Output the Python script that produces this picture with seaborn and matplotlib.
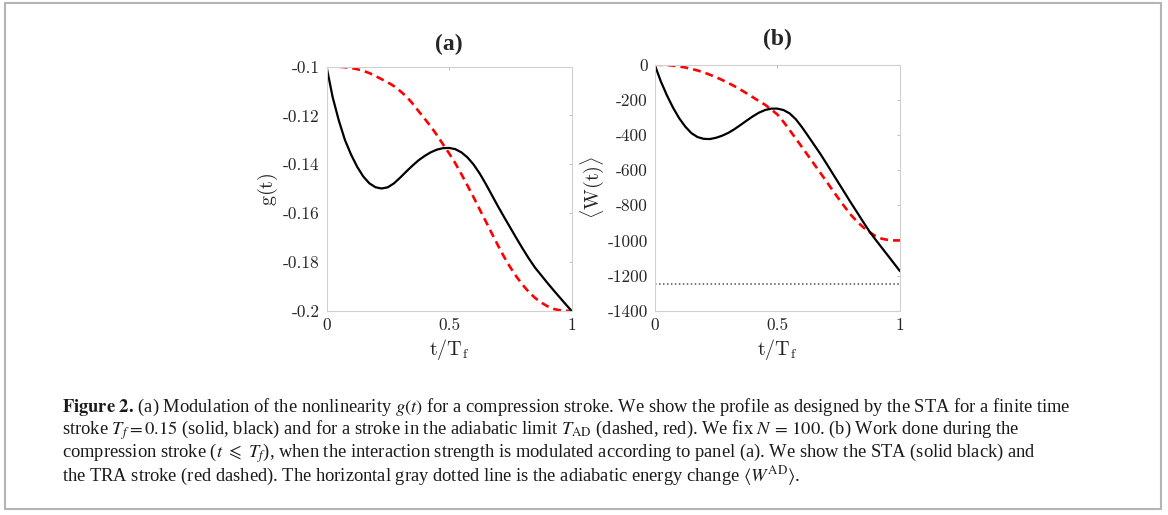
import matplotlib
matplotlib.use("Agg")
import matplotlib.pyplot as plt
import seaborn as sns
import pandas as pd
from matplotlib.patches import Rectangle

# --- Data ---
t = [0.000, 0.025, 0.050, 0.075, 0.100, 0.125, 0.150, 0.175, 0.200, 0.225,
     0.250, 0.275, 0.300, 0.325, 0.350, 0.375, 0.400, 0.425, 0.450, 0.475,
     0.500, 0.525, 0.550, 0.575, 0.600, 0.625, 0.650, 0.675, 0.700, 0.725,
     0.750, 0.775, 0.800, 0.825, 0.850, 0.875, 0.900, 0.925, 0.950, 0.975,
     1.000]

# (a) g(t): STA (solid black) and adiabatic (dashed red)
g_sta = [-0.1000, -0.1125, -0.1220, -0.1300, -0.1360, -0.1410, -0.1450, -0.1478,
         -0.1494, -0.1499, -0.1494, -0.1478, -0.1455, -0.1430, -0.1406, -0.1384,
         -0.1366, -0.1351, -0.1340, -0.1334, -0.1333, -0.1338, -0.1351, -0.1372,
         -0.1401, -0.1438, -0.1481, -0.1527, -0.1573, -0.1617, -0.1660, -0.1703,
         -0.1745, -0.1785, -0.1822, -0.1853, -0.1884, -0.1914, -0.1943, -0.1972,
         -0.2000]
g_ad = [-0.1000, -0.1000, -0.1001, -0.1003, -0.1006, -0.1011, -0.1018, -0.1027,
        -0.1039, -0.1052, -0.1065, -0.1080, -0.1100, -0.1122, -0.1150, -0.1182,
        -0.1213, -0.1245, -0.1280, -0.1318, -0.1355, -0.1395, -0.1440, -0.1487,
        -0.1535, -0.1585, -0.1634, -0.1684, -0.1733, -0.1780, -0.1822, -0.1860,
        -0.1893, -0.1922, -0.1946, -0.1965, -0.1980, -0.1991, -0.1997, -0.1999,
        -0.2000]

# (b) <W(t)>: STA (solid black) and TRA (dashed red)
w_sta = [0, -95, -175, -245, -305, -353, -390, -412, -422, -423,
         -416, -404, -388, -367, -343, -318, -294, -273, -258, -250,
         -250, -258, -277, -310, -355, -405, -456, -507, -562, -618,
         -674, -730, -786, -840, -895, -948, -995, -1040, -1085, -1130,
         -1175]
w_ad = [0, -1, -2, -5, -10, -16, -24, -33, -44, -57,
        -71, -87, -104, -122, -142, -163, -185, -207, -228, -255,
        -283, -325, -372, -420, -468, -517, -566, -615, -664, -714,
        -763, -810, -855, -893, -925, -952, -975, -990, -997, -1000,
        -1000]
w_adiabatic = -1250

g_ticks = [-0.2, -0.18, -0.16, -0.14, -0.12, -0.1]
g_ticklabels = ['-0.2', '-0.18', '-0.16', '-0.14', '-0.12', '-0.1']
w_ticks = [-1400, -1200, -1000, -800, -600, -400, -200, 0]
w_ticklabels = ['-1400', '-1200', '-1000', '-800', '-600', '-400', '-200', '0']
t_ticks = [0, 0.5, 1]
t_ticklabels = ['0', '0.5', '1']

caption_lines = [
    r"$\mathbf{Figure\ 2.}\,$(a) Modulation of the nonlinearity $g(t)$ for a compression stroke. "
    r"We show the profile as designed by the STA for a finite time",
    r"stroke $T_f = 0.15$ (solid, black) and for a stroke in the adiabatic limit "
    r"$T_{\mathrm{AD}}$ (dashed, red). We fix $N\,=\,100$. (b) Work done during the",
    r"compression stroke ($t\ \leqslant\ T_f$), when the interaction strength is modulated "
    r"according to panel (a). We show the STA (solid black) and",
    r"the TRA stroke (red dashed). The horizontal gray dotted line is the adiabatic energy "
    r"change $\langle W^{\mathrm{AD}}\rangle$.",
]

df_a = pd.DataFrame({'t': t, 'sta': g_sta, 'ad': g_ad})
df_b = pd.DataFrame({'t': t, 'sta': w_sta, 'ad': w_ad})

# --- Style ---
sns.set_style("white")
plt.rcParams['axes.unicode_minus'] = False
plt.rcParams['mathtext.fontset'] = 'cm'

W, H = 1168, 515
fig = plt.figure(figsize=(W / 100, H / 100), dpi=100)

def px_axes(left, top, right, bottom):
    return fig.add_axes([left / W, 1 - bottom / H, (right - left) / W, (bottom - top) / H])

ax_a = px_axes(326.5, 66.5, 571.7, 311)
ax_b = px_axes(654.7, 64.7, 900, 310.7)

dash = (0, (3.0, 1.9))
sns.lineplot(data=df_a, x='t', y='ad', ax=ax_a, color='#ff0000', lw=1.9, linestyle=dash)
sns.lineplot(data=df_a, x='t', y='sta', ax=ax_a, color='black', lw=1.6)

ax_b.axhline(w_adiabatic, color='#505050', lw=1.1, linestyle=(0, (1, 1.6)))
sns.lineplot(data=df_b, x='t', y='ad', ax=ax_b, color='#ff0000', lw=1.9, linestyle=dash)
sns.lineplot(data=df_b, x='t', y='sta', ax=ax_b, color='black', lw=1.6)

tick_font = dict(family='cmr10', size=12.5, color='#262626')

for ax, yt, ytl, ylim in [(ax_a, g_ticks, g_ticklabels, (-0.2, -0.1)),
                          (ax_b, w_ticks, w_ticklabels, (-1400, 0))]:
    ax.set_xlim(0, 1)
    ax.set_ylim(*ylim)
    ax.set_xticks(t_ticks)
    ax.set_xticklabels(t_ticklabels, fontdict=tick_font)
    ax.set_yticks(yt)
    ax.set_yticklabels(ytl, fontdict=tick_font)
    ax.tick_params(direction='in', length=2.5, width=0.6, color='#b0b0b0',
                   top=True, right=True, pad=5)
    for sp in ax.spines.values():
        sp.set_visible(True)
        sp.set_color('#d0d0d0')
        sp.set_linewidth(0.8)
    ax.set_xlabel(r'$\mathrm{t/T_f}$', fontsize=14.5, color='#262626', labelpad=3)

ax_a.set_ylabel(r'$\mathrm{g(t)}$', fontsize=14.5, color='#262626', labelpad=2)
ax_b.set_ylabel(r'$\langle\mathrm{W(t)}\rangle$', fontsize=14.5, color='#262626', labelpad=1)
ax_a.set_title('(a)', family='Liberation Serif', weight='bold', fontsize=17, pad=12)
ax_b.set_title('(b)', family='Liberation Serif', weight='bold', fontsize=17, pad=14)

# --- Caption ---
baselines = [412, 435, 458, 481]
for line, yb in zip(caption_lines, baselines):
    fig.text(62 / W, 1 - yb / H, line, family='Liberation Serif', math_fontfamily='stix',
             fontsize=13.3, color='#1a1a1a', ha='left', va='baseline')

# --- Outer frame ---
fig.patches.append(Rectangle((5 / W, 1 - 509 / H), (1161 - 5) / W, (509 - 3) / H,
                             transform=fig.transFigure, fill=False,
                             edgecolor='#b4b4b4', lw=1.5))

fig.savefig('out.png', dpi=100)
